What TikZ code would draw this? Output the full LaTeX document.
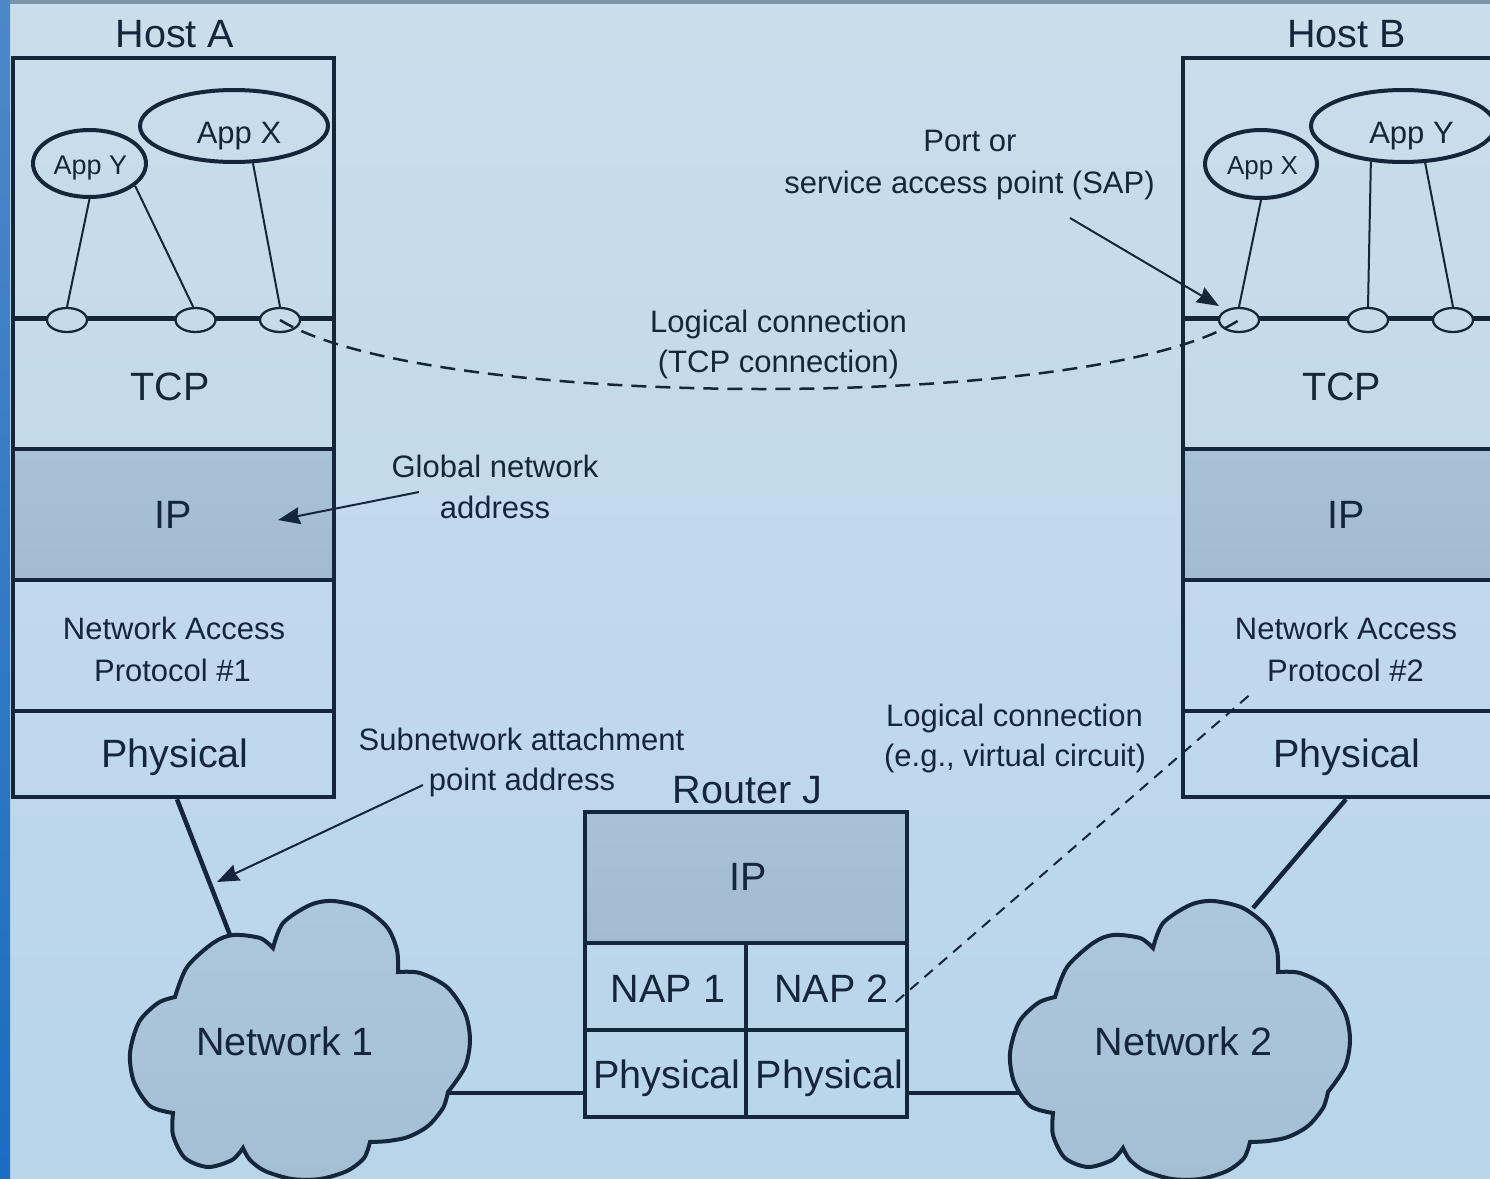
\documentclass[tikz,border=0pt]{standalone}
\usepackage{fontspec}
\setmainfont{Liberation Sans}
\usetikzlibrary{shapes.geometric,arrows.meta}
\definecolor{bgtop}{HTML}{CADDEB}
\definecolor{bgbot}{HTML}{B8D5EA}
\definecolor{ink}{HTML}{15263A}
\definecolor{iptop}{HTML}{A9C1D4}
\definecolor{ipbot}{HTML}{A2BBCF}
\definecolor{cloudtop}{HTML}{ADC7DA}
\definecolor{cloudbot}{HTML}{A4BFD4}
\definecolor{stripA}{HTML}{4C88C8}
\definecolor{stripB}{HTML}{1A6DC1}
\definecolor{topstrip}{HTML}{7A93AA}
\definecolor{portfill}{HTML}{C6DBEA}
\tikzset{
  netcloud/.pic={
    \path[draw=ink, line width=4pt, top color=cloudtop, bottom color=cloudbot]
      plot[smooth] coordinates {(175,997) (187,967) (213,943) (233,935) (260,938) (273,948)}
      -- plot[smooth] coordinates {(273,948) (283,923) (310,905) (333,901) (363,908) (387,927) (397,950) (398,972)}
      -- plot[smooth] coordinates {(398,972) (420,973) (447,987) (465,1013) (470,1040) (465,1067) (448,1092)}
      -- plot[smooth] coordinates {(448,1092) (443,1108) (428,1126) (408,1137) (388,1141) (370,1142)}
      -- plot[smooth] coordinates {(370,1142) (364,1158) (347,1171) (320,1179) (292,1179) (265,1171) (250,1160) (243,1148)}
      -- plot[smooth] coordinates {(243,1148) (232,1160) (208,1167) (185,1158) (173,1135) (173,1113)}
      -- plot[smooth] coordinates {(173,1113) (150,1106) (134,1082) (130,1053) (139,1022) (158,1003) (175,997)}
      -- cycle;
  }
}
\begin{document}
\begin{tikzpicture}[x=1pt,y=-1pt,
  wire/.style={draw=ink, line width=4.5pt},
  layer/.style={draw=ink, line width=4.5pt, rectangle, inner sep=0pt, minimum width=#1},
  big/.style={font=\fontsize{39.5}{47}\selectfont, text=ink, inner sep=0pt, anchor=base},
  small/.style={font=\fontsize{31}{37}\selectfont, text=ink, inner sep=0pt, anchor=base},
  app/.style={ellipse, draw=ink, line width=4pt, inner sep=0pt},
  apptext/.style={font=\fontsize{#1}{#1}\selectfont, text=ink, inner sep=0pt, anchor=base},
  port/.style={ellipse, draw=ink, line width=2.3pt, fill=portfill, minimum width=40pt, minimum height=24pt, inner sep=0pt},
  thin/.style={draw=ink, line width=2pt},
  ann/.style={draw=ink, line width=2pt, -{Stealth[length=22pt,width=17pt,inset=2pt]}},
  dashA/.style={draw=ink, line width=2.5pt, dash pattern=on 15pt off 9pt},
  dashB/.style={draw=ink, line width=2pt, dash pattern=on 11pt off 8pt},
]
\useasboundingbox (0,0) rectangle (1490,1178);
\shade[top color=bgtop, bottom color=bgbot] (0,0) rectangle (1490,1178);
\shade[top color=stripA, bottom color=stripB] (0,0) rectangle (10,1178);
\fill[topstrip] (10,0) rectangle (1490,4);
\begin{scope}
\clip (0,0) rectangle (1490,1178);

% ---------- Host A ----------
\node[big] (hostA) at (175,47) {Host A};
\node[layer=321pt, minimum height=260.5pt] (aApp) at (173.5,188.25) {};
\node[layer=321pt, minimum height=130.5pt] (aTCP) at (173.5,383.75) {};
\node[layer=321pt, minimum height=131pt, top color=iptop, bottom color=ipbot, draw=ink] (aIP) at (173.5,514.5) {};
\node[layer=321pt, minimum height=131pt] (aNAP) at (173.5,645.5) {};
\node[layer=321pt, minimum height=86pt] (aPhys) at (173.5,754) {};
\node[big] (tcpA) at (170,400) {TCP};
\node[big] (ipA) at (173.5,528) {IP};
\node[small] (napA1) at (174,639) {Network Access};
\node[small] (napA2) at (172.5,681) {Protocol \#1};
\node[big] (physA) at (175,767) {Physical};

\node[app, minimum width=113pt, minimum height=67pt] (aY) at (89.5,163.5) {};
\node[app, minimum width=188pt, minimum height=72pt] (aX) at (234,126) {};
\node[apptext=27] (aYt) at (90.5,174) {App Y};
\node[apptext=31] (aXt) at (239,143) {App X};
\node[port] (aP1) at (67,320) {};
\node[port] (aP2) at (195.5,320) {};
\node[port] (aP3) at (280,320) {};
\draw[thin] (aY.south) -- (aP1.north);
\draw[thin] (aY.-26) -- (aP2.100);
\draw[thin] (aX.-63) -- (aP3.north);

% ---------- Host B ----------
\node[big] (hostB) at (1346.5,47) {Host B};
\node[layer=326pt, minimum height=260.5pt] (bApp) at (1346,188.25) {};
\node[layer=326pt, minimum height=130.5pt] (bTCP) at (1346,383.75) {};
\node[layer=326pt, minimum height=131pt, top color=iptop, bottom color=ipbot, draw=ink] (bIP) at (1346,514.5) {};
\node[layer=326pt, minimum height=131pt] (bNAP) at (1346,645.5) {};
\node[layer=326pt, minimum height=86pt] (bPhys) at (1346,754) {};
\node[big] (tcpB) at (1341.5,400) {TCP};
\node[big] (ipB) at (1346.5,528) {IP};
\node[small] (napB1) at (1346,639) {Network Access};
\node[small] (napB2) at (1345.5,681) {Protocol \#2};
\node[big] (physB) at (1347,767) {Physical};

\node[app, minimum width=112pt, minimum height=68pt] (bX) at (1261,164) {};
\node[app, minimum width=184pt, minimum height=72pt] (bY) at (1403,126) {};
\node[apptext=26] (bXt) at (1262.5,174) {App X};
\node[apptext=31] (bYt) at (1411.5,143) {App Y};
\node[port] (bP1) at (1239,320) {};
\node[port] (bP2) at (1368,320) {};
\node[port] (bP3) at (1453,320) {};
\draw[thin] (bX.south) -- (bP1.north);
\draw[thin] (bY.228) -- (bP2.north);
\draw[thin] (bY.-59) -- (bP3.north);

% ---------- Router J ----------
\node[big] (routerJ) at (747.5,803) {Router J};
\node[layer=322pt, minimum height=131pt, top color=iptop, bottom color=ipbot, draw=ink] (rIP) at (746,877.5) {};
\node[layer=161pt, minimum height=87pt] (rNAP1) at (665.5,986.5) {};
\node[layer=161pt, minimum height=87pt] (rNAP2) at (826.5,986.5) {};
\node[layer=161pt, minimum height=87pt] (rPh1) at (665.5,1073.5) {};
\node[layer=161pt, minimum height=87pt] (rPh2) at (826.5,1073.5) {};
\node[big] (rIPt) at (748,890) {IP};
\node[big] (nap1) at (668,1002) {NAP 1};
\node[big] (nap2) at (831.5,1002) {NAP 2};
\node[big] (rph1t) at (667,1088) {Physical};
\node[big] (rph2t) at (829.5,1088) {Physical};

% ---------- Networks ----------
\coordinate (n1top) at (230,935);
\coordinate (n1right) at (447,1093);
\coordinate (n2top) at (1253,908);
\coordinate (n2left) at (1022,1093);
\draw[wire] ([xshift=3.5pt]aPhys.south) -- (n1top);
\draw[wire] (bPhys.south) -- (n2top);
\draw[wire] (n1right) -- (n1right -| rPh1.west);
\draw[wire] (n2left -| rPh2.east) -- (n2left);
\pic at (0,0) {netcloud};
\pic at (880,0) {netcloud};
\node[big] (net1) at (285,1055) {Network 1};
\node[big] (net2) at (1183.5,1055) {Network 2};

% ---------- Annotations ----------
\node[small] (port1) at (970,151) {Port or};
\node[small] (port2) at (969.5,193) {service access point (SAP)};
\node[small] (lc1) at (778.5,332) {Logical connection};
\node[small] (lc2) at (778.5,372) {(TCP connection)};
\node[small] (glob1) at (495,477) {Global network};
\node[small] (glob2) at (495,518) {address};
\node[small] (sub1) at (521.5,750) {Subnetwork attachment};
\node[small] (sub2) at (522,790) {point address};
\node[small] (vc1) at (1014.5,726) {Logical connection};
\node[small] (vc2) at (1015,766) {(e.g., virtual circuit)};

\coordinate (sapFrom) at (1070,218);
\coordinate (sapTip) at (1219,306);
\coordinate (globFrom) at (419,492);
\coordinate (ipTip) at (278,520);
\coordinate (subFrom) at (423,785);
\coordinate (subTip) at (217,882);
\coordinate (vcEnd) at (1253,692);
\draw[ann] (sapFrom) -- (sapTip);
\draw[ann] (globFrom) -- (ipTip);
\draw[ann] (subFrom) -- (subTip);

\draw[dashA] (aP3.center) .. controls (430,412) and (1100,412) .. (bP1.center);
\draw[dashB] ([xshift=7pt]nap2.base east) -- (vcEnd);
\end{scope}
\end{tikzpicture}
\end{document}
